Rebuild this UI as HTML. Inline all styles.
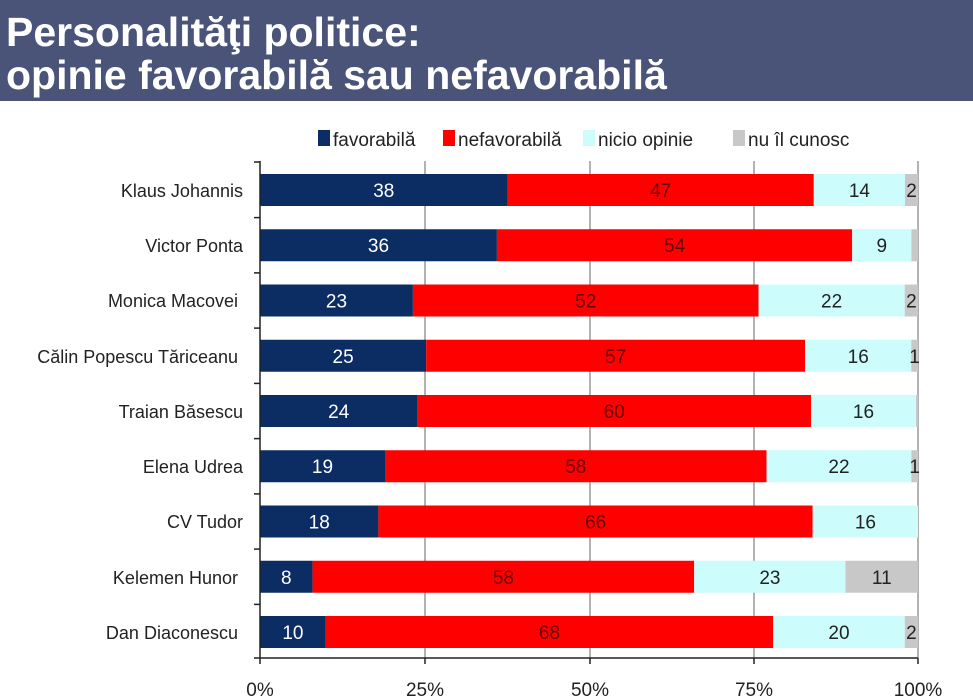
<!DOCTYPE html>
<html><head><meta charset="utf-8"><style>
body{margin:0;background:#fff;}
svg{display:block;font-family:"Liberation Sans",sans-serif;}
</style></head><body>
<svg width="973" height="700" xmlns="http://www.w3.org/2000/svg">
<rect x="0" y="0" width="973" height="101" fill="#4a5479"/>
<text x="6" y="46" fill="#fff" font-size="41" font-weight="bold">Personalităţi politice:</text>
<text x="6" y="89" fill="#fff" font-size="41" font-weight="bold">opinie favorabilă sau nefavorabilă</text>
<g font-size="19" fill="#222">
<rect x="318" y="130" width="12" height="16" fill="#0b2d63"/><text x="333" y="146">favorabilă</text>
<rect x="443" y="130" width="12" height="16" fill="#ff0000"/><text x="458" y="146">nefavorabilă</text>
<rect x="583" y="130" width="12" height="16" fill="#ccfcfc"/><text x="598" y="146">nicio opinie</text>
<rect x="733" y="130" width="12" height="16" fill="#c8c8c8"/><text x="748" y="146">nu îl cunosc</text>
</g>
<g stroke="#999" stroke-width="1.5">
<line x1="425" y1="161" x2="425" y2="658"/><line x1="590" y1="161" x2="590" y2="658"/><line x1="754" y1="161" x2="754" y2="658"/><line x1="918" y1="161" x2="918" y2="658"/>
</g>
<g font-size="18" fill="#222" text-anchor="end">
<text x="243" y="197">Klaus Johannis</text>
<text x="243" y="252">Victor Ponta</text>
<text x="238" y="307">Monica Macovei</text>
<text x="238" y="363">Călin Popescu Tăriceanu</text>
<text x="243" y="418">Traian Băsescu</text>
<text x="243" y="473">Elena Udrea</text>
<text x="243" y="528">CV Tudor</text>
<text x="238" y="584">Kelemen Hunor</text>
<text x="238" y="639">Dan Diaconescu</text>
</g>
<g>
<rect x="260" y="174" width="247.6" height="32" fill="#0b2d63"/><rect x="507.6" y="174" width="306.2" height="32" fill="#f00"/><rect x="813.8" y="174" width="91.2" height="32" fill="#ccfcfc"/><rect x="905" y="174" width="13" height="32" fill="#c8c8c8"/>
<rect x="260" y="229.25" width="236.9" height="32" fill="#0b2d63"/><rect x="496.9" y="229.25" width="355.3" height="32" fill="#f00"/><rect x="852.2" y="229.25" width="59.2" height="32" fill="#ccfcfc"/><rect x="911.4" y="229.25" width="6.6" height="32" fill="#c8c8c8"/>
<rect x="260" y="284.5" width="152.9" height="32" fill="#0b2d63"/><rect x="412.9" y="284.5" width="345.6" height="32" fill="#f00"/><rect x="758.5" y="284.5" width="146.2" height="32" fill="#ccfcfc"/><rect x="904.7" y="284.5" width="13.3" height="32" fill="#c8c8c8"/>
<rect x="260" y="339.75" width="166.2" height="32" fill="#0b2d63"/><rect x="426.2" y="339.75" width="378.8" height="32" fill="#f00"/><rect x="805" y="339.75" width="106.3" height="32" fill="#ccfcfc"/><rect x="911.3" y="339.75" width="6.7" height="32" fill="#c8c8c8"/>
<rect x="260" y="395" width="157.4" height="32" fill="#0b2d63"/><rect x="417.4" y="395" width="393.6" height="32" fill="#f00"/><rect x="811" y="395" width="105" height="32" fill="#ccfcfc"/><rect x="916" y="395" width="2" height="32" fill="#c8c8c8"/>
<rect x="260" y="450.25" width="125" height="32" fill="#0b2d63"/><rect x="385" y="450.25" width="381.6" height="32" fill="#f00"/><rect x="766.6" y="450.25" width="144.8" height="32" fill="#ccfcfc"/><rect x="911.4" y="450.25" width="6.6" height="32" fill="#c8c8c8"/>
<rect x="260" y="505.5" width="118.4" height="32" fill="#0b2d63"/><rect x="378.4" y="505.5" width="434.3" height="32" fill="#f00"/><rect x="812.7" y="505.5" width="105.3" height="32" fill="#ccfcfc"/>
<rect x="260" y="560.75" width="52.6" height="32" fill="#0b2d63"/><rect x="312.6" y="560.75" width="381.6" height="32" fill="#f00"/><rect x="694.2" y="560.75" width="151.3" height="32" fill="#ccfcfc"/><rect x="845.5" y="560.75" width="72.5" height="32" fill="#c8c8c8"/>
<rect x="260" y="616" width="65.8" height="32" fill="#0b2d63"/><rect x="325.8" y="616" width="447.4" height="32" fill="#f00"/><rect x="773.2" y="616" width="131.6" height="32" fill="#ccfcfc"/><rect x="904.8" y="616" width="13.2" height="32" fill="#c8c8c8"/>
</g>
<g font-size="19" text-anchor="middle">
<g fill="#fff">
<text x="383.8" y="197">38</text><text x="378.5" y="252">36</text><text x="336.5" y="307.5">23</text><text x="343.1" y="363">25</text><text x="338.7" y="418">24</text><text x="322.5" y="473">19</text><text x="319.2" y="528.5">18</text><text x="286.3" y="584">8</text><text x="292.9" y="639">10</text>
</g>
<g fill="#600">
<text x="660.7" y="197">47</text><text x="674.6" y="252">54</text><text x="585.7" y="307.5">52</text><text x="615.6" y="363">57</text><text x="614.2" y="418">60</text><text x="575.8" y="473">58</text><text x="595.6" y="528.5">66</text><text x="503.4" y="584">58</text><text x="549.5" y="639">68</text>
</g>
<g fill="#222">
<text x="859.4" y="197">14</text><text x="881.8" y="252">9</text><text x="831.6" y="307.5">22</text><text x="858.2" y="363">16</text><text x="863.5" y="418">16</text><text x="839" y="473">22</text><text x="865.4" y="528.5">16</text><text x="769.9" y="584">23</text><text x="839" y="639">20</text>
<text x="911.5" y="197">2</text><text x="911.4" y="307.5">2</text><text x="914.6" y="363">1</text><text x="914.7" y="473">1</text><text x="881.8" y="584">11</text><text x="911.4" y="639">2</text>
</g>
</g>
<g stroke="#222" stroke-width="1.5">
<line x1="260" y1="161" x2="260" y2="658"/><line x1="254" y1="658" x2="918" y2="658"/>
<line x1="254" y1="162" x2="260" y2="162"/><line x1="254" y1="217.6" x2="260" y2="217.6"/><line x1="254" y1="272.9" x2="260" y2="272.9"/><line x1="254" y1="328.1" x2="260" y2="328.1"/><line x1="254" y1="383.4" x2="260" y2="383.4"/><line x1="254" y1="438.6" x2="260" y2="438.6"/><line x1="254" y1="493.9" x2="260" y2="493.9"/><line x1="254" y1="549.1" x2="260" y2="549.1"/><line x1="254" y1="604.4" x2="260" y2="604.4"/>
<line x1="260" y1="658" x2="260" y2="664"/><line x1="425" y1="658" x2="425" y2="664"/><line x1="590" y1="658" x2="590" y2="664"/><line x1="754" y1="658" x2="754" y2="664"/><line x1="918" y1="658" x2="918" y2="664"/>
</g>
<g font-size="19" fill="#222" text-anchor="middle">
<text x="260" y="696">0%</text><text x="425" y="696">25%</text><text x="590" y="696">50%</text><text x="754" y="696">75%</text><text x="918" y="696">100%</text>
</g>
</svg>
</body></html>
